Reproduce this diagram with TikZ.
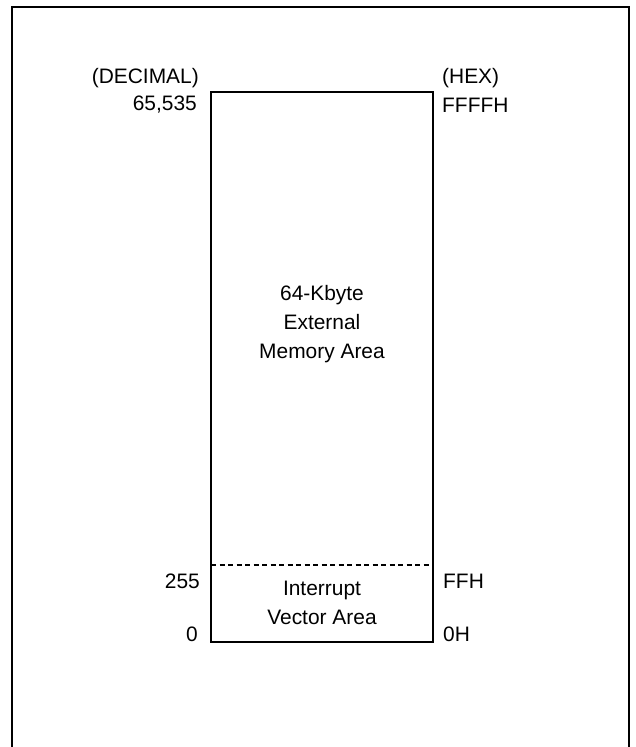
\documentclass[tikz,border=0pt]{standalone}
\usepackage{fontspec}
\setmainfont{Liberation Sans}
\usepackage{tikz}

\begin{document}
\begin{tikzpicture}[x=1bp,y=-1bp,font=\fontsize{21}{29.5}\selectfont,
  lbl/.style={inner sep=0pt},
  area/.style={inner sep=0pt,align=center}]
\useasboundingbox (0,0) rectangle (636,747);
\draw[line width=2bp] (12,747) -- (12,7) -- (629,7) -- (629,747);
\coordinate (tl) at (211,92); \coordinate (br) at (433,642);
\coordinate (dl) at (211,565); \coordinate (dr) at (433,565);
\draw[line width=1.6bp] (tl) rectangle (br);
\draw[line width=1.3bp,dash pattern=on 5bp off 3.5bp] (dl) -- (dr);
\node[lbl,anchor=east] (dec) at (199,78) {(DECIMAL)};
\node[lbl,anchor=east] (dtop) at (197,105) {65,535};
\node[lbl,anchor=east] (dmid) at (200,581) {255};
\node[lbl,anchor=east] (dbot) at (198,634) {0};
\node[lbl,anchor=west] (hex) at (442,78) {(HEX)};
\node[lbl,anchor=west] (htop) at (442,105) {FFFFH};
\node[lbl,anchor=west] (hmid) at (443,581) {FFH};
\node[lbl,anchor=west] (hbot) at (443,634) {0H};
\node[area] (ext) at (322,324) {64-Kbyte\\External\\Memory Area};
\node[area] (ivec) at (322,603) {Interrupt\\Vector Area};
\end{tikzpicture}
\end{document}
